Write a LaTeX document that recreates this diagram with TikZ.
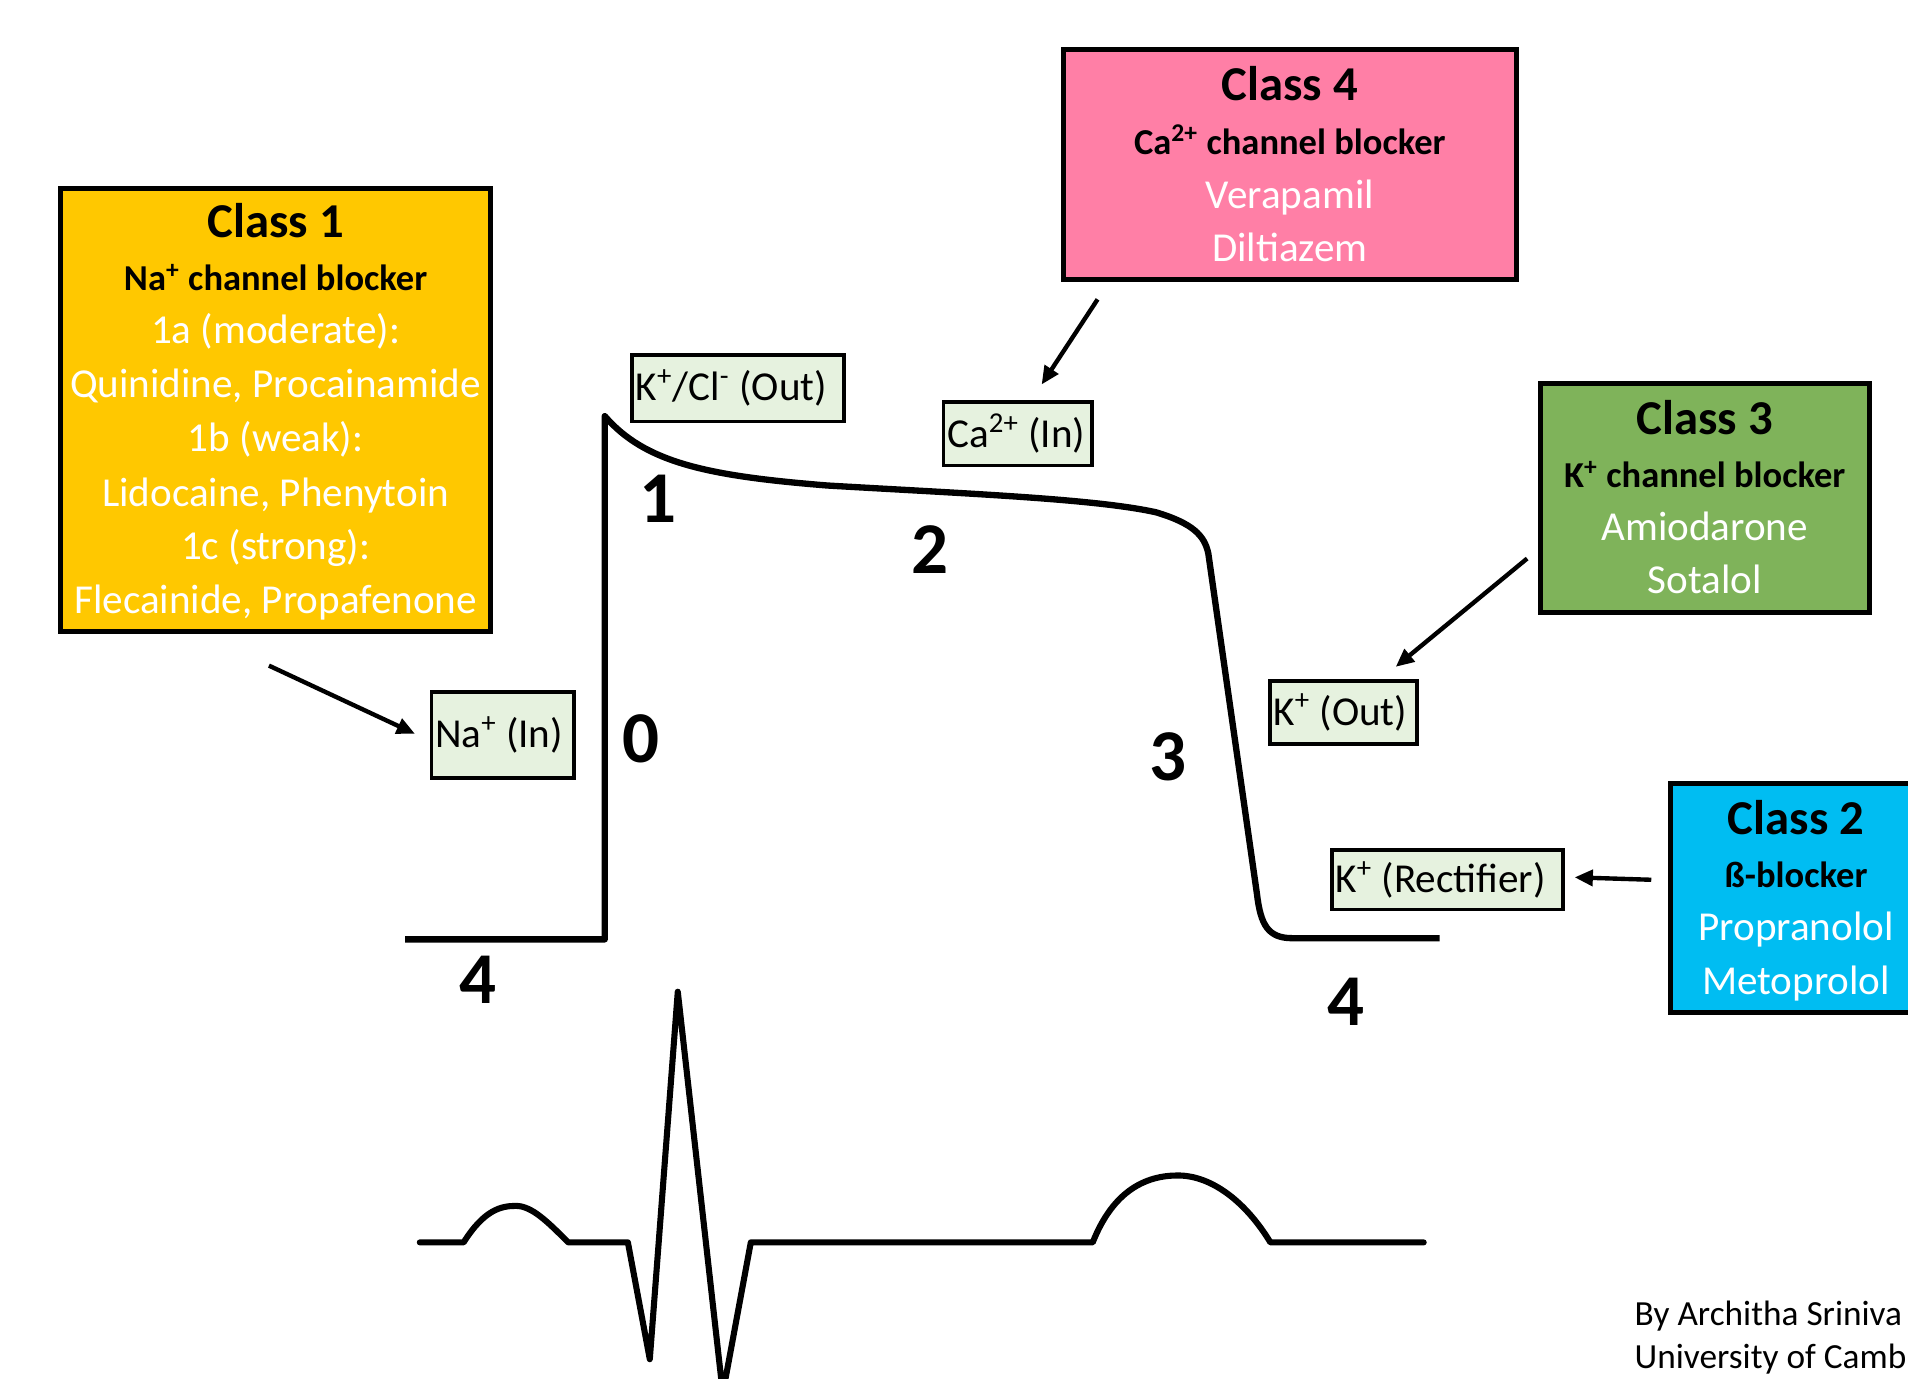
\documentclass[tikz,border=0pt]{standalone}
\usepackage{fontspec}
\setmainfont{Carlito}
\usetikzlibrary{arrows.meta,calc}
\definecolor{cIfill}{HTML}{FFC800}
\definecolor{cIVfill}{HTML}{FF7FA6}
\definecolor{cIIIfill}{HTML}{7FB35A}
\definecolor{cIIfill}{HTML}{00BDF2}
\definecolor{ionfill}{HTML}{E6F2DF}
\begin{document}
\begin{tikzpicture}[x=0.5pt,y=-0.5pt,
 classbox/.style={draw=black,line width=2pt,rectangle,inner sep=0pt},
 ionbox/.style={draw=black,line width=1.5pt,fill=ionfill,rectangle,inner xsep=1.5pt,inner ysep=0pt,font=\fontsize{16.9}{20}\selectfont},
 ttl/.style={font=\fontsize{20}{24}\selectfont\bfseries,anchor=base,inner sep=0pt},
 subttl/.style={font=\fontsize{15}{18}\selectfont\bfseries,anchor=base,inner sep=0pt},
 drug/.style={font=\fontsize{16.9}{20}\selectfont,text=white,anchor=base,inner sep=0pt},
 phasenum/.style={font=\fontsize{30}{36}\selectfont\bfseries,inner sep=0pt},
 arr/.style={line width=1.8pt,-{Triangle[length=7.5pt,width=6.5pt]}},
 trace/.style={line width=2.5pt,line join=round,line cap=round},
 credit/.style={anchor=base west,inner sep=0pt,font=\fontsize{14.5}{17}\selectfont}
]
\useasboundingbox (0,0) rectangle (1568,1133);
\clip (0,0) rectangle (1568,1133);
\fill[white] (0,0) rectangle (1568,1133);

% Class boxes
\node[classbox,fill=cIfill,minimum width=176.5pt,minimum height=182pt] (c1) at (226.5,337) {};
\node[classbox,fill=cIVfill,minimum width=186pt,minimum height=94.5pt] (c4) at (1060,135.5) {};
\node[classbox,fill=cIIIfill,minimum width=135pt,minimum height=94pt] (c3) at (1401,409) {};
\node[classbox,fill=cIIfill,minimum width=103pt,minimum height=94pt] (c2) at (1476,738) {};

% Class 1 text
\node[ttl] (c1t) at (226.5,195) {Class 1};
\node[subttl] (c1s) at (226.5,239) {Na\textsuperscript{+} channel blocker};
\node[drug] (c1a) at (226.5,282) {1a (moderate):};
\node[drug] (c1b) at (226.5,327) {Quinidine, Procainamide};
\node[drug] (c1c) at (226.5,371) {1b (weak):};
\node[drug] (c1d) at (226.5,416) {Lidocaine, Phenytoin};
\node[drug] (c1e) at (226.5,460) {1c (strong):};
\node[drug] (c1f) at (226.5,504) {Flecainide, Propafenone};

% Class 4 text
\node[ttl] (c4t) at (1060,83) {Class 4};
\node[subttl] (c4s) at (1060,127) {Ca\textsuperscript{2+} channel blocker};
\node[drug] (c4a) at (1060,171) {Verapamil};
\node[drug] (c4b) at (1060,215) {Diltiazem};

% Class 3 text
\node[ttl] (c3t) at (1401,357) {Class 3};
\node[subttl] (c3s) at (1401,401) {K\textsuperscript{+} channel blocker};
\node[drug] (c3a) at (1401,444) {Amiodarone};
\node[drug] (c3b) at (1401,488) {Sotalol};

% Class 2 text
\node[ttl] (c2t) at (1476,686) {Class 2};
\node[subttl] (c2s) at (1476,729) {ß-blocker};
\node[drug] (c2a) at (1476,773) {Propranolol};
\node[drug] (c2b) at (1476,817) {Metoprolol};

% Ion boxes
\node[ionbox,minimum height=27.5pt] (kcl) at (606.5,319) {\makebox[84pt][l]{K\textsuperscript{+}/Cl\textsuperscript{-} (Out)}};
\node[ionbox,minimum height=26pt] (ca) at (836.5,356.5) {\makebox[58pt][l]{Ca\textsuperscript{2+} (In)}};
\node[ionbox,minimum height=35.5pt] (na) at (413,604) {\makebox[55.5pt][l]{Na\textsuperscript{+} (In)}};
\node[ionbox,minimum height=26pt] (kout) at (1104,585.5) {\makebox[57.5pt][l]{K\textsuperscript{+} (Out)}};
\node[ionbox,minimum height=24.5pt] (krect) at (1189.5,723) {\makebox[92pt][l]{K\textsuperscript{+} (Rectifier)}};

% Arrow end points
\coordinate (a1s) at (221,547);
\coordinate (a1e) at (341,603);
\coordinate (a4s) at (902,246);
\coordinate (a4e) at (856,316);
\coordinate (a3s) at (1255,459);
\coordinate (a3e) at (1147,548);
\coordinate (a2s) at (1357,723);
\coordinate (a2e) at (1294,721);
\draw[arr] (a1s) -- (a1e);
\draw[arr] (a4s) -- (a4e);
\draw[arr] (a3s) -- (a3e);
\draw[arr] (a2s) -- (a2e);

% Action potential
\draw[trace,line cap=butt,line width=2.6pt] (333,772) -- (497,772) -- (497,342)
  .. controls (530,380) and (580,391) .. (680,399)
  .. controls (800,406) and (900,410) .. (950,421)
  .. controls (980,430) and (990,440) .. (993,455)
  -- (1033,735)
  .. controls (1036,760) and (1042,771) .. (1062,771)
  -- (1183,771);

% Phase numbers
\node[phasenum] (p0) at (527,607) {0};
\node[phasenum] (p1) at (541,410) {1};
\node[phasenum] (p2) at (764,452) {2};
\node[phasenum] (p3) at (960,622) {3};
\node[phasenum] (p4a) at (393,805) {4};
\node[phasenum] (p4b) at (1106,823) {4};

% ECG
\draw[trace] (345,1021) -- (381,1021)
  .. controls (398,994) and (412,991) .. (424,991)
  .. controls (437,991) and (450,1004) .. (467,1021)
  -- (516,1021) -- (534,1117) -- (557,815) -- (594,1145) -- (617,1021)
  -- (898,1021)
  .. controls (915,978) and (942,966) .. (968,966)
  .. controls (996,966) and (1024,988) .. (1044,1021)
  -- (1170,1021);

% Credit
\node[credit] (cr1) at (1343,1089) {By Architha Sriniva};
\node[credit] (cr2) at (1343,1125) {University of Camb};
\end{tikzpicture}
\end{document}
